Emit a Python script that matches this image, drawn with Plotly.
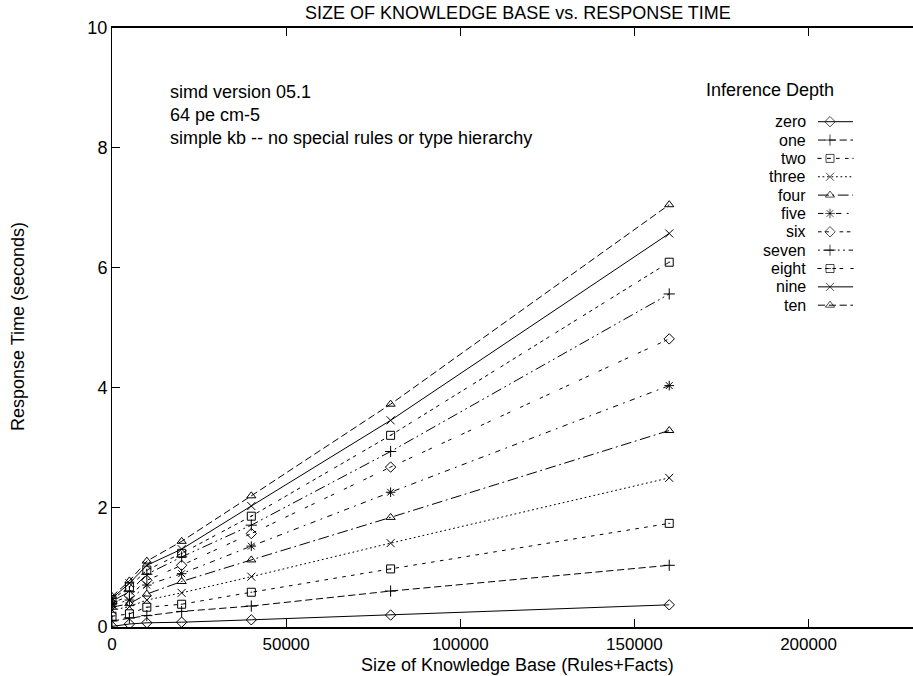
import plotly.graph_objects as go

# Knowledge-base sizes (rules + facts) at which response time was measured
kb_size = [0, 5000, 10000, 20000, 40000, 80000, 160000]

# Response time in seconds for each inference depth
depth_names = ["zero", "one", "two", "three", "four", "five",
               "six", "seven", "eight", "nine", "ten"]
t_zero = [0.01, 0.05, 0.07, 0.08, 0.12, 0.20, 0.37]
t_one = [0.10, 0.15, 0.19, 0.26, 0.35, 0.60, 1.03]
t_two = [0.18, 0.22, 0.33, 0.38, 0.58, 0.97, 1.73]
t_three = [0.28, 0.34, 0.45, 0.57, 0.84, 1.40, 2.49]
t_four = [0.33, 0.39, 0.55, 0.76, 1.12, 1.83, 3.28]
t_five = [0.37, 0.45, 0.70, 0.89, 1.35, 2.25, 4.03]
t_six = [0.40, 0.52, 0.78, 1.03, 1.56, 2.67, 4.81]
t_seven = [0.43, 0.59, 0.88, 1.17, 1.70, 2.93, 5.56]
t_eight = [0.46, 0.67, 0.95, 1.23, 1.85, 3.20, 6.09]
t_nine = [0.48, 0.73, 1.03, 1.30, 2.02, 3.45, 6.57]
t_ten = [0.51, 0.77, 1.10, 1.43, 2.19, 3.72, 7.05]
series = [t_zero, t_one, t_two, t_three, t_four, t_five,
          t_six, t_seven, t_eight, t_nine, t_ten]

x_ticks = [0, 50000, 100000, 150000, 200000]
y_ticks = [0, 2, 4, 6, 8, 10]

note_lines = ["simd version 05.1", "64 pe cm-5",
              "simple kb -- no special rules or type hierarchy"]

# gnuplot-style line types and point types
u = 1.8
def dash(*seq):
    return ",".join(f"{v * u:.1f}px" for v in seq)

dashes = ["solid", dash(4, 2), dash(2, 3), dash(1, 1.5), dash(6, 2, 1, 2),
          dash(3, 3, 1, 3), dash(2, 2, 2, 6), dash(1, 2, 6, 2, 1, 2),
          dash(2, 2, 2, 2, 2, 2, 2, 4), "solid", dash(4, 2)]
symbols = ["diamond-open", "cross-thin-open", "square-open-dot", "x-thin-open",
           "triangle-up-open", "asterisk-open", "diamond-open", "cross-thin-open",
           "square-open-dot", "x-thin-open", "triangle-up-open"]

W, H = 913, 676
L, R, T, B = 112, 0, 28, 49
PW, PH = W - L - R, H - T - B

def px(xp):
    return (xp - L) / PW

def py(yp):
    return (H - B - yp) / PH

FONT = "Liberation Sans, Arial, Helvetica, sans-serif"

fig = go.Figure()

for name, ys, dsh, sym in zip(depth_names, series, dashes, symbols):
    fig.add_trace(go.Scatter(
        x=kb_size, y=ys, mode="lines+markers", name=name, showlegend=False,
        line=dict(color="black", width=1, dash=dsh),
        marker=dict(symbol=sym, size=8, color="black",
                    line=dict(color="black", width=1)),
    ))

# key: label on the left, sample line with point on the right
annotations = []
row0, row_step = 121.7, 18.35
for i, (name, dsh, sym) in enumerate(zip(depth_names, dashes, symbols)):
    yk = py(row0 + i * row_step)
    fig.add_trace(go.Scatter(
        x=[px(818), px(830), px(853)], y=[yk, yk, yk],
        xaxis="x2", yaxis="y2", mode="lines+markers", showlegend=False,
        hoverinfo="skip",
        line=dict(color="black", width=1, dash=dsh),
        marker=dict(symbol=sym, size=[0, 8, 0], color="black",
                    line=dict(color="black", width=1)),
    ))
    annotations.append(dict(
        x=px(808), y=yk, xref="paper", yref="paper", text=name,
        showarrow=False, xanchor="right", yanchor="middle",
        font=dict(size=16, color="black", family=FONT)))

annotations.append(dict(
    x=px(770), y=py(90), xref="paper", yref="paper", text="Inference Depth",
    showarrow=False, xanchor="center", yanchor="middle",
    font=dict(size=18, color="black", family=FONT)))

for line, yp in zip(note_lines, [91.7, 115.0, 137.7]):
    annotations.append(dict(
        x=px(168), y=py(yp), xref="paper", yref="paper", text=line,
        showarrow=False, xanchor="left", yanchor="middle",
        font=dict(size=18, color="black", family=FONT)))

annotations.append(dict(
    x=px(517), y=py(665), xref="paper", yref="paper",
    text="Size of Knowledge Base (Rules+Facts)", showarrow=False,
    xanchor="center", yanchor="middle",
    font=dict(size=18, color="black", family=FONT)))
annotations.append(dict(
    x=px(18), y=py(327), xref="paper", yref="paper",
    text="Response Time (seconds)", showarrow=False, textangle=-90,
    xanchor="center", yanchor="middle",
    font=dict(size=18, color="black", family=FONT)))

fig.update_layout(
    width=W, height=H,
    margin=dict(l=L, r=R, t=T, b=B, pad=0),
    paper_bgcolor="white", plot_bgcolor="white",
    font=dict(family=FONT, size=18, color="black"),
    title=dict(text="SIZE OF KNOWLEDGE BASE vs. RESPONSE TIME",
               x=px(518), xref="paper", xanchor="center",
               y=1 - 12.7 / H, yref="container", yanchor="middle",
               font=dict(size=18, color="black", family=FONT)),
    xaxis=dict(range=[0, 230000], tickvals=x_ticks,
               ticktext=[str(v) for v in x_ticks],
               ticks="inside", ticklen=8, tickwidth=1, tickcolor="black",
               showline=True, linecolor="black", linewidth=1.5,
               mirror="ticks", showgrid=False, zeroline=False,
               ticklabelstandoff=1, tickfont=dict(size=17)),
    yaxis=dict(range=[0, 10], tickvals=y_ticks,
               ticktext=[str(v) for v in y_ticks],
               ticks="inside", ticklen=8, tickwidth=1, tickcolor="black",
               showline=True, linecolor="black", linewidth=1,
               mirror=False, showgrid=False, zeroline=False),
    xaxis2=dict(range=[0, 1], overlaying="x", visible=False, anchor="y2"),
    yaxis2=dict(range=[0, 1], overlaying="y", visible=False, anchor="x2"),
    annotations=annotations,
)

fig.write_html("out.html")
